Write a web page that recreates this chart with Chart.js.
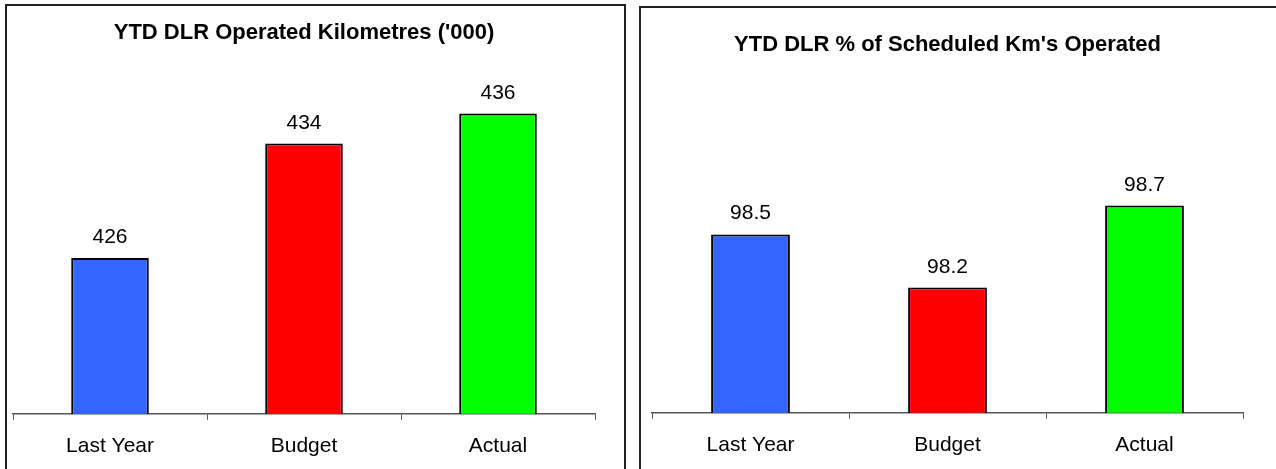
<!DOCTYPE html>
<html>
<head>
<meta charset="utf-8">
<script src="https://cdn.jsdelivr.net/npm/chart.js@4.4.0/dist/chart.umd.min.js"></script>
<style>
    html, body { margin: 0; padding: 0; background: #fff; overflow: hidden; }
    body { width: 1276px; height: 469px; position: relative; }
    .frame { position: absolute; box-sizing: border-box; border: 2px solid #222; background: #fff; }
    .wrap { position: absolute; top: 0; height: 484px; }
</style>
</head>
<body>
<div class="frame" style="left:5px; top:4px; width:621px; height:480px;"></div>
<div class="frame" style="left:639px; top:6px; width:650px; height:480px;"></div>
<div class="wrap" style="left:0; width:635px;"><canvas id="kmChart"></canvas></div>
<div class="wrap" style="left:635px; width:641px;"><canvas id="pctChart"></canvas></div>
<script>
// categories and values
const categories = ['Last Year', 'Budget', 'Actual'];
const kmValues = [425.9, 433.9, 436.0];
const pctValues = [98.51, 98.18, 98.69];
const barColours = ['#3366FF', '#FF0000', '#00FF00'];

const FONT = "'Liberation Sans', Arial, sans-serif";

// draws the value above each bar
const valueLabels = {
    id: 'valueLabels',
    afterDatasetsDraw(chart, args, opts) {
        const ctx = chart.ctx;
        const meta = chart.getDatasetMeta(0);
        ctx.save();
        ctx.font = '21px ' + FONT;
        ctx.fillStyle = '#000';
        ctx.textAlign = 'center';
        ctx.textBaseline = 'alphabetic';
        meta.data.forEach((bar, i) => {
            const v = chart.data.datasets[0].data[i];
            ctx.fillText(v.toFixed(opts.decimals || 0), bar.x, bar.y - 15);
        });
        ctx.restore();
    }
};

function makeChart(id, title, values, yMin, yMax, decimals, padding, titlePad) {
    new Chart(document.getElementById(id), {
        type: 'bar',
        data: {
            labels: categories,
            datasets: [{
                data: values,
                backgroundColor: barColours,
                borderColor: '#000',
                borderWidth: 2,
                borderSkipped: false,
                barPercentage: 0.4,
                categoryPercentage: 1.0
            }]
        },
        options: {
            responsive: true,
            maintainAspectRatio: false,
            animation: false,
            layout: { padding: padding },
            plugins: {
                legend: { display: false },
                tooltip: { enabled: false },
                title: {
                    display: true,
                    text: title,
                    color: '#000',
                    font: { family: FONT, size: 22, weight: 'bold' },
                    padding: titlePad
                },
                valueLabels: { decimals: decimals }
            },
            scales: {
                x: {
                    grid: {
                        display: true,
                        drawOnChartArea: false,
                        drawTicks: true,
                        tickLength: 6,
                        color: '#555',
                        offset: true
                    },
                    border: { display: true, color: '#555', width: 1.5 },
                    ticks: {
                        color: '#000',
                        padding: 14,
                        font: { family: FONT, size: 21 }
                    }
                },
                y: {
                    display: false,
                    min: yMin,
                    max: yMax
                }
            }
        },
        plugins: [valueLabels]
    });
}

makeChart('kmChart', "YTD DLR Operated Kilometres ('000)", kmValues, 415, 440, 0,
    { left: 13, right: 40, bottom: 11, top: 0 }, { top: 20, bottom: 10 });
makeChart('pctChart', "YTD DLR % of Scheduled Km's Operated", pctValues, 97.4, 99.6, 1,
    { left: 17, right: 33, bottom: 12, top: 0 }, { top: 32, bottom: 1 });
</script>
</body>
</html>
